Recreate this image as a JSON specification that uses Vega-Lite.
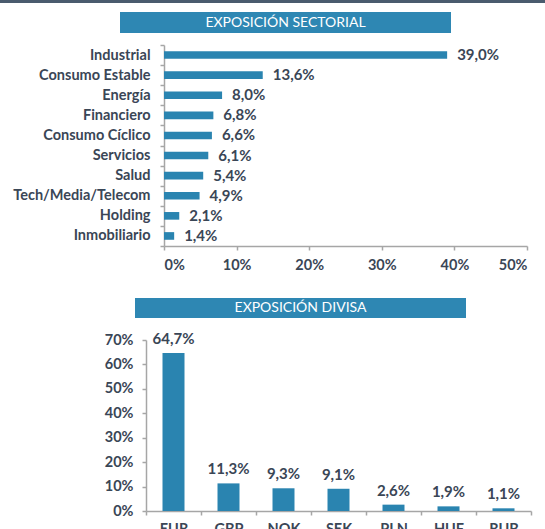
{
  "$schema": "https://vega.github.io/schema/vega-lite/v6.json",
  "padding": 0,
  "autosize": {"type": "pad"},
  "background": "white",
  "spacing": 0,
  "config": {
    "view": {"stroke": null},
    "locale": {"number": {"decimal": ",", "thousands": ".", "grouping": [3], "currency": ["", " €"]}},
    "font": "Lato",
    "axis": {
      "grid": false,
      "title": null,
      "domainColor": "#a6a6a6",
      "domainWidth": 1.5,
      "tickColor": "#a6a6a6",
      "tickWidth": 1.5,
      "labelFont": "Lato",
      "labelFontWeight": "bold",
      "labelFontSize": 14.5,
      "labelColor": "#3a4656",
      "labelOverlap": false
    }
  },
  "vconcat": [
    {
      "width": 545,
      "height": 3,
      "view": {"fill": "#4a5b6e", "stroke": null},
      "data": {"values": [{"t": "a"}]},
      "mark": {"type": "text", "fontSize": 1, "opacity": 0},
      "encoding": {
        "x": {"field": "t", "type": "nominal", "axis": {"orient": "bottom", "labels": false, "domain": false, "ticks": false, "minExtent": 9, "maxExtent": 9}},
        "text": {"value": ""}
      }
    },
    {
      "width": 545,
      "height": 21,
      "data": {"values": [{"t": "EXPOSICIÓN SECTORIAL"}]},
      "encoding": {
        "x": {"field": "t", "type": "nominal",
          "scale": {"range": [120, 451], "paddingInner": 0, "paddingOuter": 0},
          "axis": {"orient": "bottom", "labels": false, "domain": false, "ticks": false, "minExtent": 4, "maxExtent": 4}}
      },
      "layer": [
        {"mark": {"type": "rect", "color": "#2e87b3"}},
        {"mark": {"type": "text", "color": "white", "fontSize": 14, "font": "Lato"}, "encoding": {"text": {"field": "t"}}}
      ]
    },
    {
      "width": 545,
      "height": 201,
      "data": {"values": [
        {"sector": "Industrial", "v": 0.39},
        {"sector": "Consumo Estable", "v": 0.136},
        {"sector": "Energía", "v": 0.08},
        {"sector": "Financiero", "v": 0.068},
        {"sector": "Consumo Cíclico", "v": 0.066},
        {"sector": "Servicios", "v": 0.061},
        {"sector": "Salud", "v": 0.054},
        {"sector": "Tech/Media/Telecom", "v": 0.049},
        {"sector": "Holding", "v": 0.021},
        {"sector": "Inmobiliario", "v": 0.014}
      ]},
      "encoding": {
        "y": {"field": "sector", "type": "nominal", "sort": null,
          "scale": {"paddingInner": 0, "paddingOuter": 0},
          "axis": {"offset": -164, "tickBand": "extent", "tickSize": 4, "labelPadding": 10}},
        "x": {"field": "v", "type": "quantitative", "scale": {"domain": [0, 0.5], "range": [164, 527]},
          "axis": {"values": [0, 0.1, 0.2, 0.3, 0.4, 0.5], "format": ".0%", "tickSize": 4, "labelPadding": 8, "minExtent": 52, "maxExtent": 52}}
      },
      "layer": [
        {"mark": {"type": "bar", "color": "#2a84b0", "height": {"band": 0.38}}},
        {
          "mark": {"type": "text", "align": "left", "dx": 10, "fontWeight": "bold", "fontSize": 15, "font": "Lato", "color": "#3a4656"},
          "encoding": {"text": {"field": "v", "type": "quantitative", "format": ".1%"}}
        }
      ]
    },
    {
      "width": 545,
      "height": 20,
      "data": {"values": [{"t": "EXPOSICIÓN DIVISA"}]},
      "encoding": {
        "x": {"field": "t", "type": "nominal",
          "scale": {"range": [135, 466], "paddingInner": 0, "paddingOuter": 0},
          "axis": {"orient": "bottom", "labels": false, "domain": false, "ticks": false, "minExtent": 13, "maxExtent": 13}}
      },
      "layer": [
        {"mark": {"type": "rect", "color": "#2e87b3"}},
        {"mark": {"type": "text", "color": "white", "fontSize": 14, "font": "Lato"}, "encoding": {"text": {"field": "t"}}}
      ]
    },
    {
      "width": 545,
      "height": 171,
      "data": {"values": [
        {"cur": "EUR", "v": 0.647},
        {"cur": "GBP", "v": 0.113},
        {"cur": "NOK", "v": 0.093},
        {"cur": "SEK", "v": 0.091},
        {"cur": "PLN", "v": 0.026},
        {"cur": "HUF", "v": 0.019},
        {"cur": "RUB", "v": 0.011}
      ]},
      "encoding": {
        "x": {"field": "cur", "type": "nominal", "sort": null,
          "scale": {"range": [146, 531], "paddingInner": 0, "paddingOuter": 0},
          "axis": {"tickBand": "extent", "labelAngle": 0, "tickSize": 4, "labelPadding": 7}},
        "y": {"field": "v", "type": "quantitative", "scale": {"domain": [0, 0.7]},
          "axis": {"offset": -146, "values": [0, 0.1, 0.2, 0.3, 0.4, 0.5, 0.6, 0.7], "format": ".0%", "tickSize": 4, "labelPadding": 9}}
      },
      "layer": [
        {"mark": {"type": "bar", "color": "#2a84b0", "width": {"band": 0.4}}},
        {
          "mark": {"type": "text", "baseline": "alphabetic", "dy": -9, "fontWeight": "bold", "fontSize": 15, "font": "Lato", "color": "#3a4656"},
          "encoding": {"text": {"field": "v", "type": "quantitative", "format": ".1%"}}
        }
      ]
    }
  ]
}
